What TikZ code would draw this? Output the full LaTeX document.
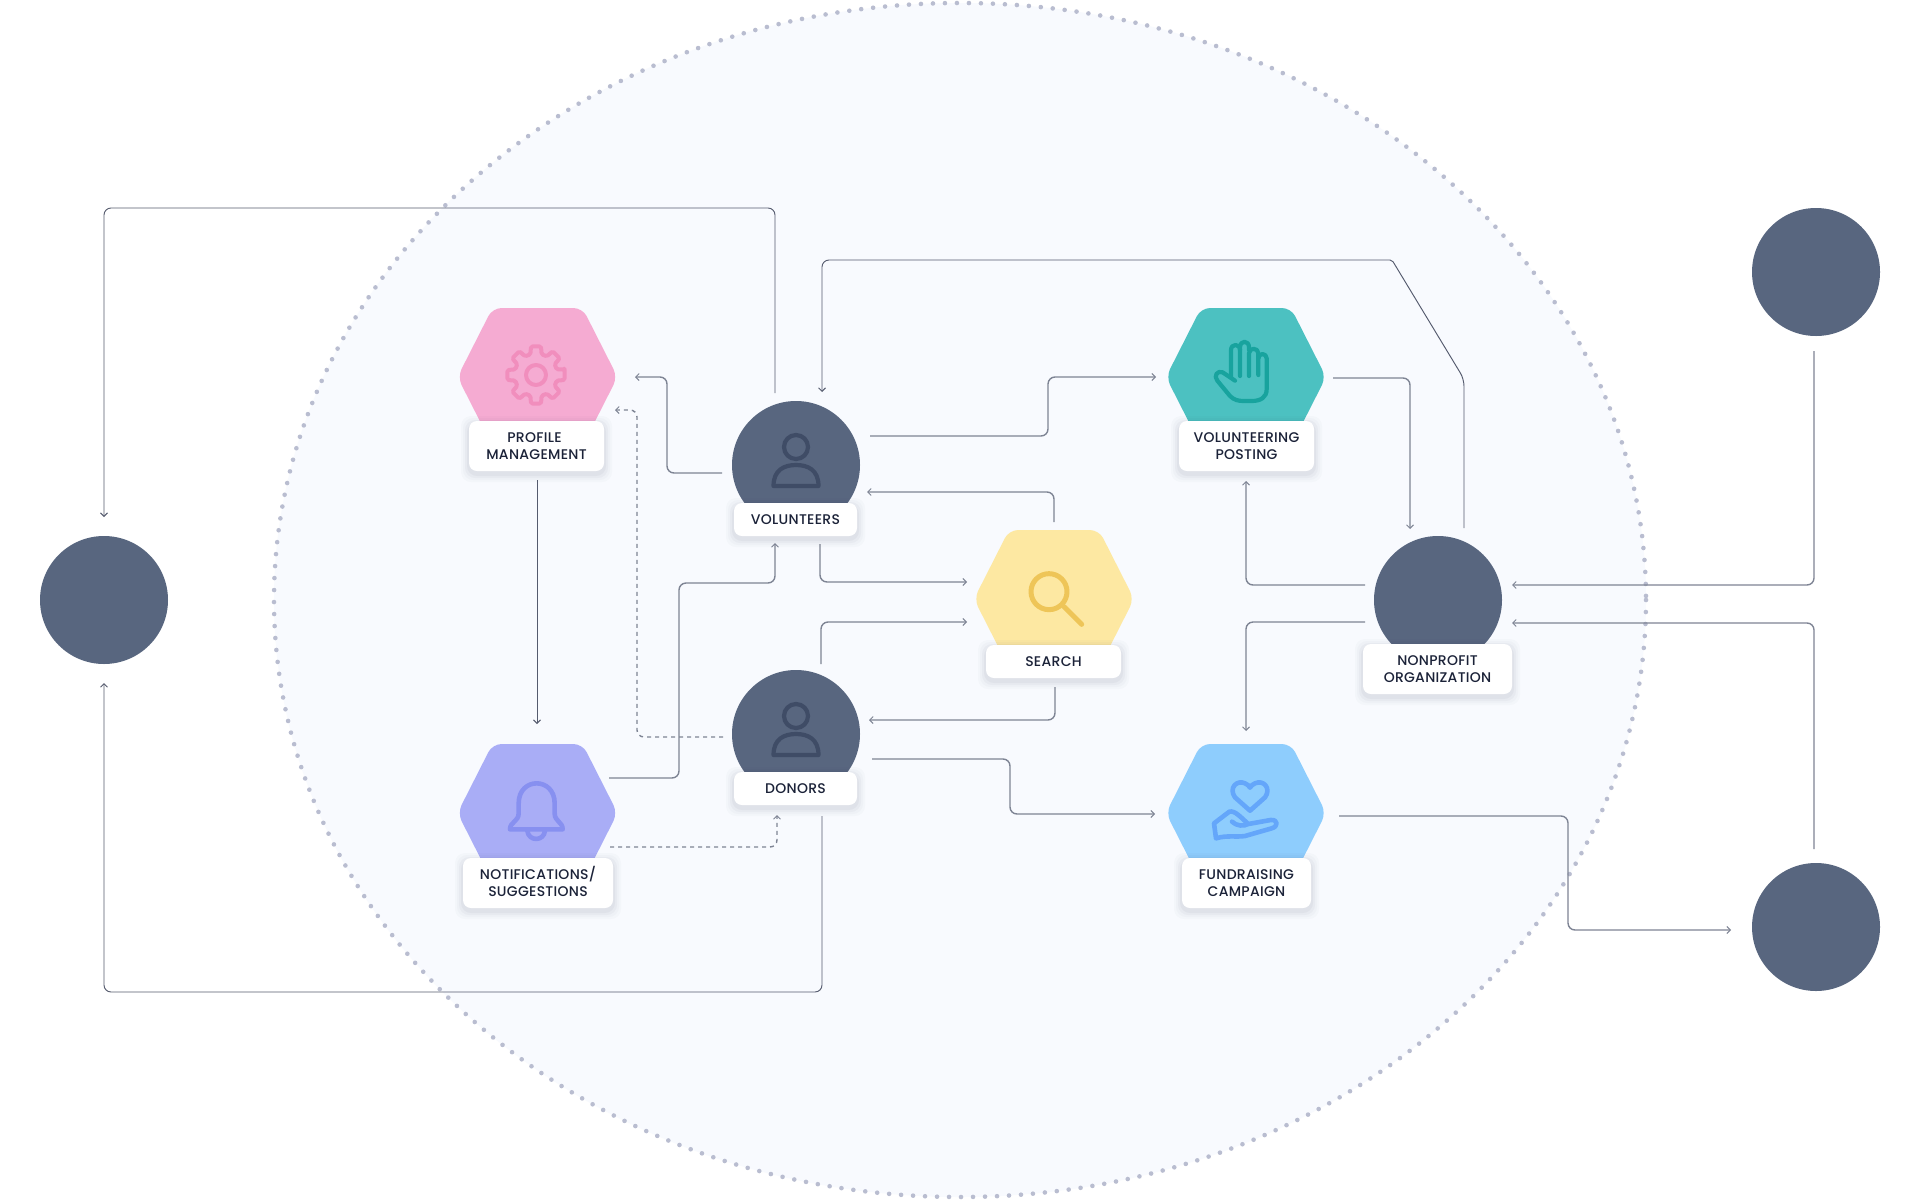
\documentclass[tikz,border=0pt]{standalone}
\usepackage{fontspec}
\setmainfont{Poppins Medium}[LetterSpace=2]
\usetikzlibrary{arrows.meta}
\definecolor{inkc}{HTML}{1B2238}
\definecolor{linec}{HTML}{7E8494}
\definecolor{darkl}{HTML}{555B6E}
\definecolor{circc}{HTML}{58667F}
\definecolor{personc}{HTML}{3F4C66}
\definecolor{pinkh}{HTML}{F5ABD2}
\definecolor{pinki}{HTML}{F18EBD}
\definecolor{tealh}{HTML}{4CC1C1}
\definecolor{teali}{HTML}{18A39E}
\definecolor{yelh}{HTML}{FDE8A2}
\definecolor{yeli}{HTML}{EEC558}
\definecolor{blueh}{HTML}{8ECDFD}
\definecolor{bluei}{HTML}{64A6FA}
\definecolor{purh}{HTML}{A9ADF6}
\definecolor{puri}{HTML}{8790F0}
\definecolor{bgc}{HTML}{F8FAFE}
\definecolor{dotc}{HTML}{B9BDD0}
\definecolor{shadc}{HTML}{2A3050}
\tikzset{
  conn/.style={draw=linec,line width=1.4pt,rounded corners=7pt},
  arrowline/.style={conn,-{Straight Barb[length=3.5pt,width=7pt,line width=1pt]}},
  darkarrow/.style={arrowline,draw=darkl,line width=.95pt},
  dashline/.style={arrowline,dash pattern=on 4pt off 4pt},
  actor/.style={circle,fill=circc,minimum size=128pt,inner sep=0pt,outer sep=0pt},
  lab/.style={fill=white,rounded corners=8pt,inner sep=0pt,align=center,text=inkc,
     font=\fontsize{14}{17}\selectfont},
  icon/.style={line width=4.2pt,line cap=round,line join=round,fill=none},
  zoomed/.style={shift={#1},x=.33333pt,y=-.33333pt},
}
\newcommand{\hexshape}[4]{%
  \fill[#4,rounded corners=9pt] (#2-80,#3) -- (#2-45,#3-69) -- (#2+45,#3-69) -- (#2+80,#3)
     -- (#2+45,#3+69) -- (#2-45,#3+69) -- cycle;
  \coordinate (#1) at (#2,#3);}
\newcommand{\labelbox}[6]{%
  \foreach \sg/\so in {8/.018,6/.024,4/.03,2/.04}{
    \fill[shadc,opacity=\so,rounded corners=10pt] (#2-\sg,#3+3-\sg) rectangle (#4+\sg,#5+3+\sg);}
  \node[lab,minimum width={(#4-#2)*1pt},minimum height={(#5-#3)*1pt}] (#1) at ({(#2+#4)/2},{(#3+#5)/2}) {#6};}
\newcommand{\person}[2]{%
  \begin{scope}[shift={(#1,#2)}]
    \draw[icon,draw=personc,line width=4.2pt] (0,-18) circle (12);
    \draw[icon,draw=personc,line width=4.2pt] (-22.5,21) .. controls (-22.5,5) and (-12,0) .. (0,0)
       .. controls (12,0) and (22.5,5) .. (22.5,21) -- cycle;
  \end{scope}}
\begin{document}
\begin{tikzpicture}[x=1pt,y=-1pt]
\useasboundingbox (0,0) rectangle (1920,1200);
\fill[white] (0,0) rectangle (1920,1200);
\draw[fill=bgc,draw=dotc,line width=4.6pt,line cap=round,dash pattern=on 0pt off 12pt]
   (960,600) ellipse [x radius=686,y radius=597];

% connector ends
\coordinate (volL) at (722,473);    \coordinate (profA) at (635,377);
\coordinate (donL) at (723,737);    \coordinate (profB) at (615,410);
\coordinate (volT) at (775,393);    \coordinate (leftT) at (104,517);
\coordinate (orgT) at (1464,528);   \coordinate (volTin) at (822,392);
\coordinate (volR) at (870,436);    \coordinate (postL) at (1156,377);
\coordinate (postR) at (1333,378);  \coordinate (orgTin) at (1410,529);
\coordinate (orgLa) at (1365,585);  \coordinate (postB) at (1246,481);
\coordinate (orgLb) at (1365,622);  \coordinate (fundT) at (1246,731);
\coordinate (searchT) at (1054,522);\coordinate (volRin) at (867,492);
\coordinate (volB) at (820,544);    \coordinate (searchLa) at (967,582);
\coordinate (donT) at (821,664);    \coordinate (searchLb) at (967,622);
\coordinate (searchB) at (1055,687);\coordinate (donRin) at (869,720);
\coordinate (notR) at (609,778);    \coordinate (volBin) at (775,543);
\coordinate (profBot) at (537,480); \coordinate (notT) at (537,724);
\coordinate (notRd) at (610,847);   \coordinate (donBin) at (777,815);
\coordinate (donB) at (822,816);    \coordinate (leftB) at (104,683);
\coordinate (donR) at (872,759);    \coordinate (fundL) at (1155,814);
\coordinate (fundR) at (1339,816);  \coordinate (rbL) at (1731,930);
\coordinate (rtB) at (1814,351);    \coordinate (orgRa) at (1512,585);
\coordinate (rbT) at (1814,849);    \coordinate (orgRb) at (1512,623);

% connectors
\draw[arrowline] (volL) -- (667,473) -- (667,377) -- (profA);
\draw[dashline]  (donL) -- (637,737) -- (637,410) -- (profB);
\draw[darkarrow] (volT) -- (775,208) -- (104,208) -- (leftT);
\draw[darkarrow] (orgT) -- (1464,379) [rounded corners=2pt] -- (1392,260) [rounded corners=7pt] -- (822,260) -- (volTin);
\draw[arrowline] (volR) -- (1048,436) -- (1048,377) -- (postL);
\draw[arrowline] (postR) -- (1410,378) -- (orgTin);
\draw[arrowline] (orgLa) -- (1246,585) -- (postB);
\draw[arrowline] (orgLb) -- (1246,622) -- (fundT);
\draw[arrowline] (searchT) -- (1054,492) -- (volRin);
\draw[arrowline] (volB) -- (820,582) -- (searchLa);
\draw[arrowline] (donT) -- (821,622) -- (searchLb);
\draw[arrowline] (searchB) -- (1055,720) -- (donRin);
\draw[arrowline] (notR) -- (679,778) -- (679,583) -- (775,583) -- (volBin);
\draw[darkarrow] (profBot) -- (notT);
\draw[dashline]  (notRd) -- (777,847) -- (donBin);
\draw[darkarrow] (donB) -- (822,992) -- (104,992) -- (leftB);
\draw[arrowline] (donR) -- (1010,759) -- (1010,814) -- (fundL);
\draw[arrowline] (fundR) -- (1568,816) -- (1568,930) -- (rbL);
\draw[arrowline] (rtB) -- (1814,585) -- (orgRa);
\draw[arrowline] (rbT) -- (1814,623) -- (orgRb);

% hexagons
\hexshape{hprofile}{537.5}{377}{pinkh}
\hexshape{hnotif}{537.5}{813}{purh}
\hexshape{hpost}{1246}{377}{tealh}
\hexshape{hsearch}{1054}{599}{yelh}
\hexshape{hfund}{1246}{813}{blueh}

% actors
\node[actor] (volunteers) at (796,465) {};
\node[actor] (donors) at (796,734) {};
\node[actor] (org) at (1438,600) {};
\node[actor] (leftc) at (104,600) {};
\node[actor] (rtop) at (1816,272) {};
\node[actor] (rbot) at (1816,927) {};

% icons
\person{796}{465}
\person{796}{734}
% gear
\begin{scope}[shift={(536,375)}]
  \draw[icon,draw=pinki,line width=4pt,rounded corners=1.5pt]
    (-11:29) \foreach \a in {0,45,...,315}{ -- ({\a-10}:29) -- ({\a+10}:29) -- ({\a+15}:21.5) -- ({\a+30}:21.5)} -- cycle;
  \draw[icon,draw=pinki,line width=4pt] (0,0) circle (10);
\end{scope}
% hand
\begin{scope}[zoomed={(1130,290)}]
  \draw[icon,draw=teali] (315,272) -- (278,247) .. controls (262,240) and (250,258) .. (262,272)
     -- (300,318) .. controls (312,330) and (325,333) .. (340,333) -- (365,333)
     .. controls (392,333) and (410,322) .. (410,298) -- (410,205)
     .. controls (410,188) and (385,188) .. (385,205) -- (385,255);
  \draw[icon,draw=teali] (385,205) -- (385,190) .. controls (385,172) and (357,172) .. (357,190) -- (357,258);
  \draw[icon,draw=teali] (357,180) -- (357,172) .. controls (357,150) and (330,150) .. (330,172) -- (330,258);
  \draw[icon,draw=teali] (330,180) .. controls (330,160) and (303,160) .. (303,180) -- (303,262);
\end{scope}
% magnifier
\begin{scope}[zoomed={(950,510)}]
  \draw[icon,draw=yeli,line width=5pt] (297,245) circle (54);
  \draw[icon,draw=yeli,line width=5pt] (342,290) -- (395,343);
\end{scope}
% bell
\begin{scope}[zoomed={(440,640)}]
  \draw[icon,draw=puri,line width=4.6pt] (236,490) .. controls (236,410) and (344,410) .. (344,490) -- (344,520)
     .. controls (344,545) and (368,545) .. (368,568) -- (210,568)
     .. controls (210,545) and (236,545) .. (236,520) -- cycle;
  \draw[icon,draw=puri,line width=4.6pt] (262,572) .. controls (265,605) and (312,605) .. (315,572);
\end{scope}
% heart and hand
\begin{scope}[zoomed={(1130,720)}]
  \draw[icon,draw=bluei,line width=4.6pt] (360,272) -- (315,232) .. controls (295,205) and (320,178) .. (345,190)
     .. controls (352,193) and (358,198) .. (360,203) .. controls (362,198) and (368,193) .. (375,190)
     .. controls (400,178) and (425,205) .. (405,232) -- cycle;
  \draw[icon,draw=bluei,line width=4.6pt] (306,305) .. controls (320,318) and (340,320) .. (355,312) -- (422,300)
     .. controls (445,298) and (445,320) .. (425,325) -- (345,348) .. controls (320,352) and (290,345) .. (258,355)
     -- (252,310) -- (298,275) .. controls (315,270) and (335,295) .. (355,312);
\end{scope}

% labels
\labelbox{lprofile}{469}{421}{604}{471}{PROFILE\kern4pt\\MANAGEMENT}
\labelbox{lvol}{734}{503}{857}{536}{VOLUNTEERS}
\labelbox{lnotif}{463}{858}{613}{908}{\smash{NOTIFICATIONS/}\vphantom{A}\\SUGGESTIONS}
\labelbox{ldon}{734}{772}{857}{805}{DONORS}
\labelbox{lpost}{1179}{421}{1314}{471}{VOLUNTEERING\\POSTING}
\labelbox{lsearch}{986}{645}{1121}{678}{SEARCH}
\labelbox{lfund}{1182}{858}{1311}{908}{FUNDRAISING\\CAMPAIGN}
\labelbox{lorg}{1363}{644}{1512}{694}{NONPROFIT\\ORGANIZATION}
\end{tikzpicture}
\end{document}
